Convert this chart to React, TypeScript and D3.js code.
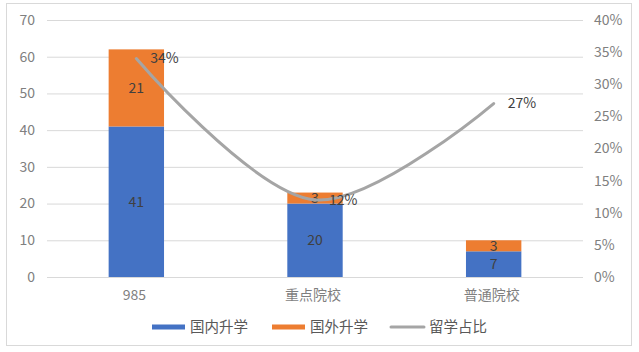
import { useEffect, useRef } from 'react';
import * as d3 from 'd3';

const categorias = ['985', '重点院校', '普通院校'];
const guonei = [41, 20, 7];
const guowai = [21, 3, 3];
const liuxue = [0.34, 0.12, 0.27];
const etiquetasLiuxue = ['34%', '12%', '27%'];
const leftTicks = [0, 10, 20, 30, 40, 50, 60, 70];
const rightTicks = [0, 0.05, 0.1, 0.15, 0.2, 0.25, 0.3, 0.35, 0.4];
const leyenda = [
  { label: '国内升学', color: '#4472C4', tipo: 'bar' },
  { label: '国外升学', color: '#ED7D31', tipo: 'bar' },
  { label: '留学占比', color: '#A5A5A5', tipo: 'line' },
];

const width = 639;
const height = 352;
const font = '"Noto Sans CJK SC", "Noto Sans", sans-serif';

export default function App() {
  const ref = useRef<SVGSVGElement>(null);
  useEffect(() => {
    const svg = d3.select(ref.current);
    svg.selectAll('*').remove();
    const margin = { top: 20, right: 56, bottom: 75, left: 47 };
    const x = d3.scaleBand().domain(categorias).range([margin.left, width - margin.right]).paddingInner(0.69).paddingOuter(0.345);
    const y = d3.scaleLinear().domain([0, 70]).range([height - margin.bottom, margin.top]);
    const y2 = d3.scaleLinear().domain([0, 0.4]).range([height - margin.bottom, margin.top]);

    // borde
    svg.append('rect')
      .attr('x', 6.5).attr('y', 3.5).attr('width', 625).attr('height', 342)
      .attr('fill', '#fff').attr('stroke', '#D9D9D9');

    // rejilla
    svg.append('g').selectAll('line').data(leftTicks).join('line')
      .attr('x1', margin.left).attr('x2', width - margin.right)
      .attr('y1', d => y(d) + 0.5).attr('y2', d => y(d) + 0.5)
      .attr('stroke', '#D9D9D9');

    // ejes
    svg.append('g').selectAll('text').data(leftTicks).join('text')
      .attr('x', 35).attr('y', d => y(d)).attr('dy', '0.35em')
      .attr('text-anchor', 'end').attr('font-size', 14).attr('fill', '#808080')
      .attr('font-family', font).text(d => d);
    svg.append('g').selectAll('text').data(rightTicks).join('text')
      .attr('x', 594).attr('y', d => y2(d)).attr('dy', '0.35em')
      .attr('text-anchor', 'start').attr('font-size', 14).attr('fill', '#808080')
      .attr('font-family', font).text(d => Math.round(d * 100) + '%');
    svg.append('g').selectAll('text').data(categorias).join('text')
      .attr('x', d => x(d)! + x.bandwidth() / 2 - 2).attr('y', 295).attr('dy', '0.35em')
      .attr('text-anchor', 'middle').attr('font-size', 14).attr('fill', '#7F7F7F')
      .attr('font-family', font).text(d => d);

    // barras
    const g = svg.append('g');
    categorias.forEach((c, i) => {
      const bx = x(c)!;
      const bw = x.bandwidth();
      g.append('rect').attr('x', bx).attr('width', bw)
        .attr('y', y(guonei[i])).attr('height', y(0) - y(guonei[i])).attr('fill', '#4472C4');
      g.append('rect').attr('x', bx).attr('width', bw)
        .attr('y', y(guonei[i] + guowai[i])).attr('height', y(guonei[i]) - y(guonei[i] + guowai[i])).attr('fill', '#ED7D31');
      g.append('text').attr('x', bx + bw / 2).attr('y', (y(0) + y(guonei[i])) / 2).attr('dy', '0.35em')
        .attr('text-anchor', 'middle').attr('font-size', 14).attr('fill', '#404040').attr('font-family', font).text(guonei[i]);
      g.append('text').attr('x', bx + bw / 2).attr('y', (y(guonei[i]) + y(guonei[i] + guowai[i])) / 2).attr('dy', '0.35em')
        .attr('text-anchor', 'middle').attr('font-size', 14).attr('fill', '#404040').attr('font-family', font).text(guowai[i]);
    });

    // linea
    const pts: [number, number][] = categorias.map((c, i) => [x(c)! + x.bandwidth() / 2, y2(liuxue[i])]);
    svg.append('path')
      .attr('d', d3.line().curve(d3.curveCatmullRom.alpha(0.5))(pts))
      .attr('fill', 'none').attr('stroke', '#A5A5A5').attr('stroke-width', 3).attr('stroke-linecap', 'round');
    svg.append('g').selectAll('text').data(pts).join('text')
      .attr('x', d => d[0] + 14).attr('y', d => d[1]).attr('dy', '0.35em')
      .attr('text-anchor', 'start').attr('font-size', 14).attr('fill', '#404040')
      .attr('font-family', font).text((d, i) => etiquetasLiuxue[i]);

    // leyenda
    const lx = [152, 272, 391];
    const lg = svg.append('g');
    leyenda.forEach((item, i) => {
      if (item.tipo === 'bar') {
        lg.append('rect').attr('x', lx[i]).attr('y', 324.5).attr('width', 33).attr('height', 5).attr('fill', item.color);
      } else {
        lg.append('line').attr('x1', lx[i]).attr('x2', lx[i] + 33).attr('y1', 327).attr('y2', 327)
          .attr('stroke', item.color).attr('stroke-width', 3).attr('stroke-linecap', 'round');
      }
      lg.append('text').attr('x', lx[i] + 38).attr('y', 327).attr('dy', '0.35em')
        .attr('font-size', 14.5).attr('fill', '#595959').attr('font-family', font).text(item.label);
    });
  }, []);

  return (
    <svg ref={ref} width={width} height={height} style={{ position: 'absolute', left: 0, top: 0, display: 'block' }} />
  );
}
